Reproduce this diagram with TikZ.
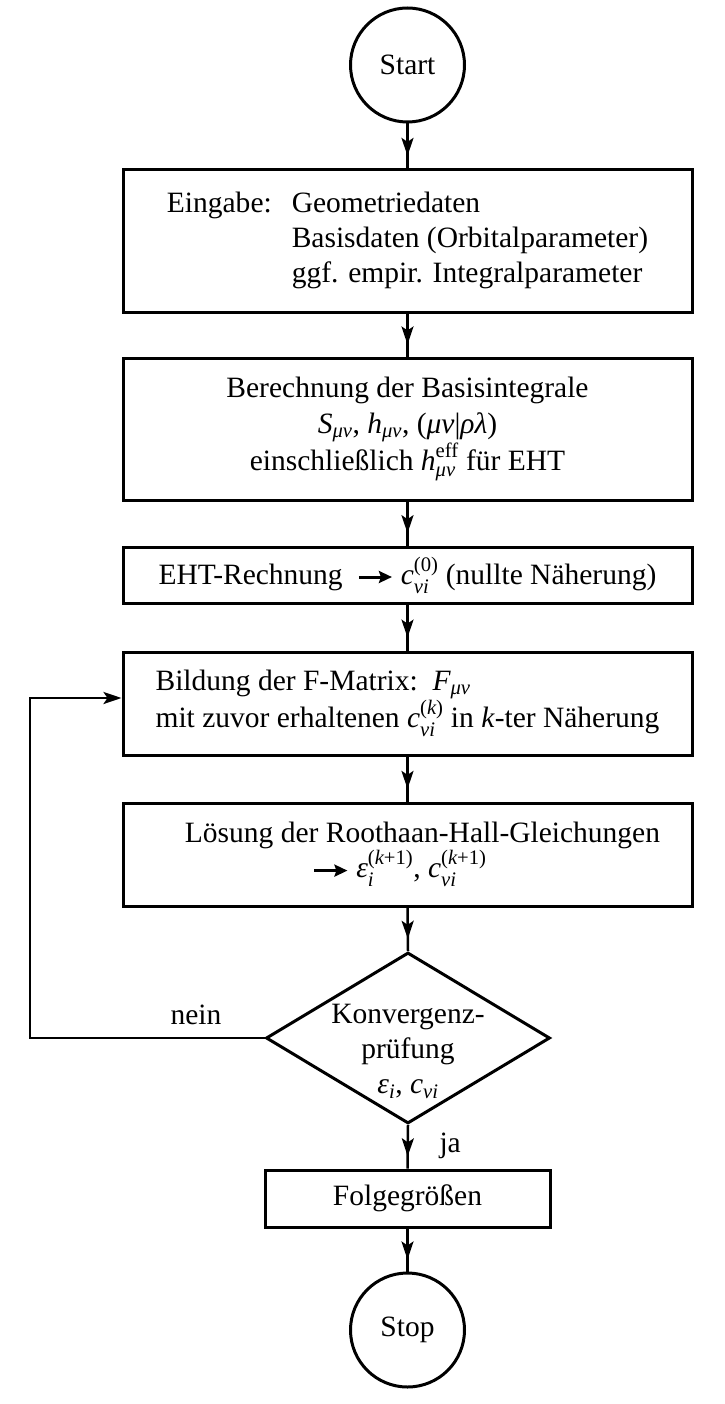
\documentclass[tikz,border=0pt]{standalone}
\usepackage{amsmath}
\usepackage{fontspec}
\setmainfont{Liberation Serif}
\usetikzlibrary{arrows.meta,shapes.geometric,decorations.markings,calc}

\newcommand{\ix}[1]{\text{\itshape #1}}
\newcommand{\cm}{\text{, }}
\newcommand{\tarr}{\tikz[baseline=-7pt]{\draw[line width=3pt,-{Stealth[length=13pt,width=12pt,inset=2pt]}] (0pt,0pt) -- (33pt,0pt);}}

\begin{document}
\begin{tikzpicture}[x=1pt,y=1pt,
  every node/.style={font=\fontsize{29.5}{35}\selectfont},
  box/.style={draw, line width=3pt, rectangle, minimum width=569pt, inner sep=0pt},
  term/.style={draw, circle, line width=3pt, minimum size=114pt, inner sep=0pt},
  conn/.style={line width=2.5pt, postaction={decorate},
    decoration={markings, mark=at position 0.72 with {\arrow{Stealth[length=18pt,width=12pt,inset=4pt]}}}},
]
\useasboundingbox (0,0) rectangle (724,-1404);

\node[term] (start) at (407.5,-65) {Start};

\node[box, minimum height=142pt] (b1) at (407.5,-241)
  {\raisebox{6pt}{\begin{tabular}{@{}l@{\hspace{20pt}}l@{}}
   Eingabe: & Geometriedaten\\
            & Basisdaten (Orbitalparameter)\\
            & ggf. empir. Integralparameter
   \end{tabular}}};

\node[box, minimum height=142pt, align=center] (b2) at (407.5,-429)
  {Berechnung der Basisintegrale\\[1pt]
   $\ix{S}_{\ix{μν}}\cm\ix{h}_{\ix{μν}}\cm\text{(\itshape μν\upshape|\itshape ρλ\upshape)}$\\
   einschließlich $\ix{h}^{\text{eff}}_{\ix{μν}}$ für EHT};

\node[box, minimum height=56pt] (b3) at (407.5,-575)
  {EHT-Rechnung\ \ \tarr\ $\ix{c}^{\text{(0)}}_{\ix{νi}}$\ (nullte Näherung)};

\node[box, minimum height=103pt, align=left] (b4) at (407.5,-703.5)
  {Bildung der F-Matrix:\enspace $\ix{F}_{\ix{μν}}$\\
   mit zuvor erhaltenen $\ix{c}^{\text{(\itshape k\upshape)}}_{\ix{νi}}$ in \textit{k}-ter Näherung};

\node[box, minimum height=103pt, align=left] (b5) at (407.5,-854.5)
  {\hspace*{30pt}Lösung der Roothaan-Hall-Gleichungen\\
   \hspace*{158pt}\tarr\ $\ix{ε}^{\text{(\itshape k\upshape+1)}}_{\ix{i}}\cm\ix{c}^{\text{(\itshape k\upshape+1)}}_{\ix{νi}}$};

\node[draw, diamond, line width=3pt, minimum width=284pt, minimum height=171pt, inner sep=0pt] (dia) at (408,-1038) {};
\node[align=center] (dtext) at (408,-1051)
  {Konvergenz-\\prüfung\\$\ix{ε}_{\ix{i}}\cm\ix{c}_{\ix{νi}}$};

\node[box, minimum width=285pt, minimum height=57pt] (b6) at (407.5,-1198.5) {Folgegrößen};

\node[term] (stop) at (407.5,-1330) {Stop};

\draw[conn] (start.south) -- (b1.north);
\draw[conn] (b1.south) -- (b2.north);
\draw[conn] (b2.south) -- (b3.north);
\draw[conn] (b3.south) -- (b4.north);
\draw[conn] (b4.south) -- (b5.north);
\draw[conn] (b5.south) -- (dia.north);
\draw[conn] (dia.south) -- (b6.north);
\draw[conn] (b6.south) -- (stop.north);

\coordinate (lb) at (30,-1038);
\coordinate (lt) at (30,-698);
\draw[line width=2.5pt, -{Stealth[length=18pt,width=12pt,inset=4pt]}] (dia.west) -- (lb) -- (lt) -- (lt -| b4.west);

\node[anchor=base] (nein) at (196,-1024) {nein};
\node[anchor=base west] (ja) at (436,-1152) {ja};
\end{tikzpicture}
\end{document}
